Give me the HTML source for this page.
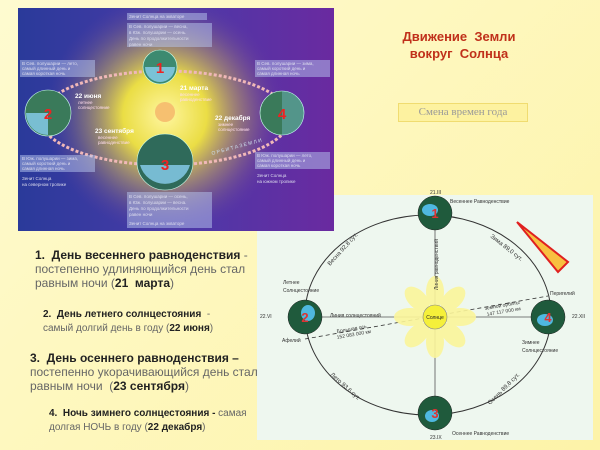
<!DOCTYPE html>
<html><head><meta charset="utf-8"><style>
body{margin:0;width:600px;height:450px;overflow:hidden;background:#fdf6b8;font-family:"Liberation Sans",sans-serif;position:relative}
.t{position:absolute;white-space:nowrap;font-size:12px;color:#666;line-height:14px}
.t b{color:#222}
</style></head><body>
<div style="position:absolute;left:0;top:0;width:600px;height:450px;background:linear-gradient(135deg,#fefbd0,#fdf3a8)"></div>

<!-- bottom right panel -->
<svg style="position:absolute;left:0;top:0" width="600" height="450" viewBox="0 0 600 450">
<rect x="257" y="195" width="336" height="245" fill="#eef7ef"/>
<ellipse cx="428" cy="315" rx="123" ry="100" fill="none" stroke="#333" stroke-width="1"/>
<line x1="435" y1="213" x2="435" y2="413" stroke="#555" stroke-width="0.8"/>
<line x1="305" y1="317" x2="548" y2="317" stroke="#555" stroke-width="0.8"/>
<line x1="305" y1="339" x2="548" y2="296" stroke="#333" stroke-width="0.8" stroke-dasharray="4,3"/>
<g fill="#fbf59a" opacity="0.9">
<ellipse cx="435" cy="292" rx="9" ry="16"/><ellipse cx="435" cy="342" rx="9" ry="16"/>
<ellipse cx="410" cy="317" rx="16" ry="9"/><ellipse cx="460" cy="317" rx="16" ry="9"/>
<ellipse cx="417" cy="299" rx="9" ry="15" transform="rotate(-45 417 299)"/><ellipse cx="453" cy="335" rx="9" ry="15" transform="rotate(-45 453 335)"/>
<ellipse cx="453" cy="299" rx="9" ry="15" transform="rotate(45 453 299)"/><ellipse cx="417" cy="335" rx="9" ry="15" transform="rotate(45 417 335)"/>
</g>
<circle cx="435" cy="317" r="12" fill="#f5f03a" stroke="#888" stroke-width="0.6"/>
<text x="435" y="319" font-size="5" text-anchor="middle" fill="#222">Солнце</text>
<g stroke="#222" stroke-width="0.5">
<circle cx="435" cy="213" r="17" fill="#1f5a3c"/><circle cx="305" cy="317" r="17" fill="#1f5a3c"/>
<circle cx="548" cy="317" r="17" fill="#1f5a3c"/><circle cx="435" cy="413" r="17" fill="#1f5a3c"/>
</g>
<g fill="#4fb8e0"><ellipse cx="430" cy="210" rx="8" ry="6"/><ellipse cx="308" cy="313" rx="7" ry="8"/><ellipse cx="545" cy="320" rx="8" ry="6"/><ellipse cx="432" cy="416" rx="7" ry="6"/></g>
<g fill="#d33" font-size="13" font-weight="bold" text-anchor="middle"><text x="435" y="218">1</text><text x="305" y="322">2</text><text x="548" y="322">4</text><text x="435" y="418">3</text></g>
<polygon points="517,222 568,262 558,272" fill="#f8c040" stroke="#e02020" stroke-width="2"/>
<g font-size="5" fill="#333">
<text x="450" y="203">Весеннее Равноденствие</text><text x="430" y="194">21.III</text>
<text x="283" y="284">Летнее</text><text x="283" y="292">Солнцестояние</text>
<text x="260" y="318">22.VI</text><text x="282" y="342">Афелий</text>
<text x="550" y="295">Перигелий</text><text x="572" y="318">22.XII</text>
<text x="522" y="344">Зимнее</text><text x="522" y="352">Солнцестояние</text>
<text x="452" y="435">Осеннее Равноденствие</text><text x="430" y="439">23.IX</text>
<text x="330" y="317">Линия солнцестояний</text>
<text x="485" y="310" transform="rotate(-10 485 310)">земной орбиты</text>
<text x="487" y="316" transform="rotate(-10 487 316)">147 117 000 км</text>
<text x="337" y="333" transform="rotate(-10 337 333)">Большая ось</text>
<text x="337" y="339" transform="rotate(-10 337 339)">152 083 000 км</text>
<text x="0" y="0" transform="translate(438,290) rotate(-90)">Линия равноденствий</text>
</g>
<g font-size="6" fill="#333">
<text x="330" y="266" transform="rotate(-48 330 266)">Весна 92,8 сут.</text>
<text x="490" y="237" transform="rotate(38 490 237)">Зима 89,0 сут.</text>
<text x="330" y="375" transform="rotate(42 330 375)">Лето 93,6 сут.</text>
<text x="490" y="405" transform="rotate(-45 490 405)">Осень 89,8 сут.</text>
</g>
</svg>

<!-- top-left picture -->
<svg style="position:absolute;left:18;top:8px;left:18px" width="316" height="223" viewBox="18 8 316 223">
<defs>
<linearGradient id="bg" x1="0" y1="0" x2="1" y2="0"><stop offset="0" stop-color="#2a3a9a"/><stop offset="0.5" stop-color="#4a3aa8"/><stop offset="1" stop-color="#6a2aa0"/></linearGradient>
<radialGradient id="sun" cx="165" cy="115" r="120" gradientUnits="userSpaceOnUse"><stop offset="0" stop-color="#fff6a0"/><stop offset="0.35" stop-color="#f3e640" stop-opacity="0.95"/><stop offset="0.7" stop-color="#c0a060" stop-opacity="0.4"/><stop offset="1" stop-color="#6a40a0" stop-opacity="0"/></radialGradient>
</defs>
<rect x="18" y="8" width="316" height="223" fill="url(#bg)"/>
<rect x="18" y="8" width="316" height="223" fill="url(#sun)"/>
<circle cx="165" cy="112" r="10" fill="#f6c070"/>
<ellipse cx="165" cy="118" rx="125" ry="47" fill="none" stroke="#f0b8b8" stroke-width="3" stroke-dasharray="3,2"/>
<g stroke="#cfe" stroke-width="0.6">
<circle cx="160" cy="67" r="17" fill="#3c8a70"/><circle cx="48" cy="113" r="23" fill="#3a7a5a"/>
<circle cx="282" cy="113" r="22" fill="#3a7a5a"/><circle cx="165" cy="162" r="28" fill="#2f6a5a"/>
</g>
<g fill="#8ad0f0" opacity="0.8"><path d="M145,67 a15,15 0 0 0 30,0z"/><path d="M48,113 h-22 a22,22 0 0 0 22,22z"/><path d="M282,91 a22,22 0 0 1 0,44z" opacity="0.4"/><path d="M140,165 a26,26 0 0 0 50,0z"/></g>
<g fill="#e22" font-size="15" font-weight="bold" text-anchor="middle"><text x="160" y="73">1</text><text x="48" y="119">2</text><text x="282" y="119">4</text><text x="165" y="170">3</text></g>
<g fill="#dde" font-size="4.5">
<rect x="127" y="13" width="80" height="7" fill="#b8c8f0" opacity="0.5"/>
<text x="129" y="18">Зенит Солнца на экваторе</text>
<rect x="127" y="23" width="85" height="24" fill="#b8c8f0" opacity="0.5"/>
<text x="129" y="28">В Сев. полушарии — весна,</text><text x="129" y="34">в Юж. полушарии — осень.</text><text x="129" y="40">День по продолжительности</text><text x="129" y="46">равен ночи</text>
<rect x="20" y="60" width="75" height="17" fill="#b8c8f0" opacity="0.5"/>
<text x="22" y="65">В Сев. полушарии — лето,</text><text x="22" y="70">самый длинный день и</text><text x="22" y="75">самая короткая ночь</text>
<rect x="255" y="60" width="75" height="17" fill="#b8c8f0" opacity="0.5"/>
<text x="257" y="65">В Сев. полушарии — зима,</text><text x="257" y="70">самый короткий день и</text><text x="257" y="75">самая длинная ночь</text>
<rect x="20" y="155" width="75" height="17" fill="#b8c8f0" opacity="0.5"/>
<text x="22" y="160">В Юж. полушарии — зима,</text><text x="22" y="165">самый короткий день и</text><text x="22" y="170">самая длинная ночь</text>
<text x="22" y="180">Зенит Солнца</text><text x="22" y="186">на северном тропике</text>
<rect x="255" y="152" width="75" height="17" fill="#b8c8f0" opacity="0.5"/>
<text x="257" y="157">В Юж. полушарии — лето,</text><text x="257" y="162">самый длинный день и</text><text x="257" y="167">самая короткая ночь</text>
<text x="257" y="177">Зенит Солнца</text><text x="257" y="183">на южном тропике</text>
<rect x="127" y="192" width="85" height="36" fill="#b8c8f0" opacity="0.5"/>
<text x="129" y="198">В Сев. полушарии — осень,</text><text x="129" y="204">в Юж. полушарии — весна.</text><text x="129" y="210">День по продолжительности</text><text x="129" y="216">равен ночи</text><text x="129" y="225">Зенит Солнца на экваторе</text>
</g>
<g fill="#fff" font-size="6.5" font-weight="bold">
<text x="75" y="98">22 июня</text><text x="180" y="90">21 марта</text><text x="215" y="120">22 декабря</text><text x="95" y="133">23 сентября</text>
</g>
<g fill="#fde" font-size="4.5">
<text x="78" y="104">летнее</text><text x="78" y="109">солнцестояние</text>
<text x="180" y="96">весеннее</text><text x="180" y="101">равноденствие</text>
<text x="218" y="126">зимнее</text><text x="218" y="131">солнцестояние</text>
<text x="98" y="139">весеннее</text><text x="98" y="144">равноденствие</text>
<text x="212" y="155" font-size="5" fill="#cde" transform="rotate(-15 212 155)">О Р Б И Т А   З Е М Л И</text>
</g>
</svg>

<div style="position:absolute;left:398px;top:28px;width:122px;text-align:center;font-weight:bold;font-size:13px;line-height:17px;color:#c0301a">Движение&nbsp; Земли<br>вокруг&nbsp; Солнца</div>
<div style="position:absolute;left:398px;top:103px;width:130px;height:19px;box-sizing:border-box;border:1px solid #f0dc70;background:#fdf2a0;text-align:center;font-family:'Liberation Serif',serif;font-size:11px;line-height:17px;color:#999">Смена времен года</div>

<div class="t" style="left:35px;top:248px"><b>1.&nbsp; День весеннего равноденствия</b> -<br>постепенно удлиняющийся день стал<br>равным ночи (<b>21&nbsp; марта</b>)</div>
<div class="t" style="left:43px;top:308px;font-size:10px"><b>2.&nbsp; День летнего солнцестояния</b>&nbsp; -<br>самый долгий день в году (<b>22 июня</b>)</div>
<div class="t" style="left:30px;top:351px"><b>3.&nbsp; День осеннего равноденствия –</b><br>постепенно укорачивающийся день стал<br>равным ночи&nbsp; (<b>23 сентября</b>)</div>
<div class="t" style="left:49px;top:407px;font-size:10px"><b>4.&nbsp; Ночь зимнего солнцестояния -</b> самая<br>долгая НОЧЬ в году (<b>22 декабря</b>)</div>
</body></html>
